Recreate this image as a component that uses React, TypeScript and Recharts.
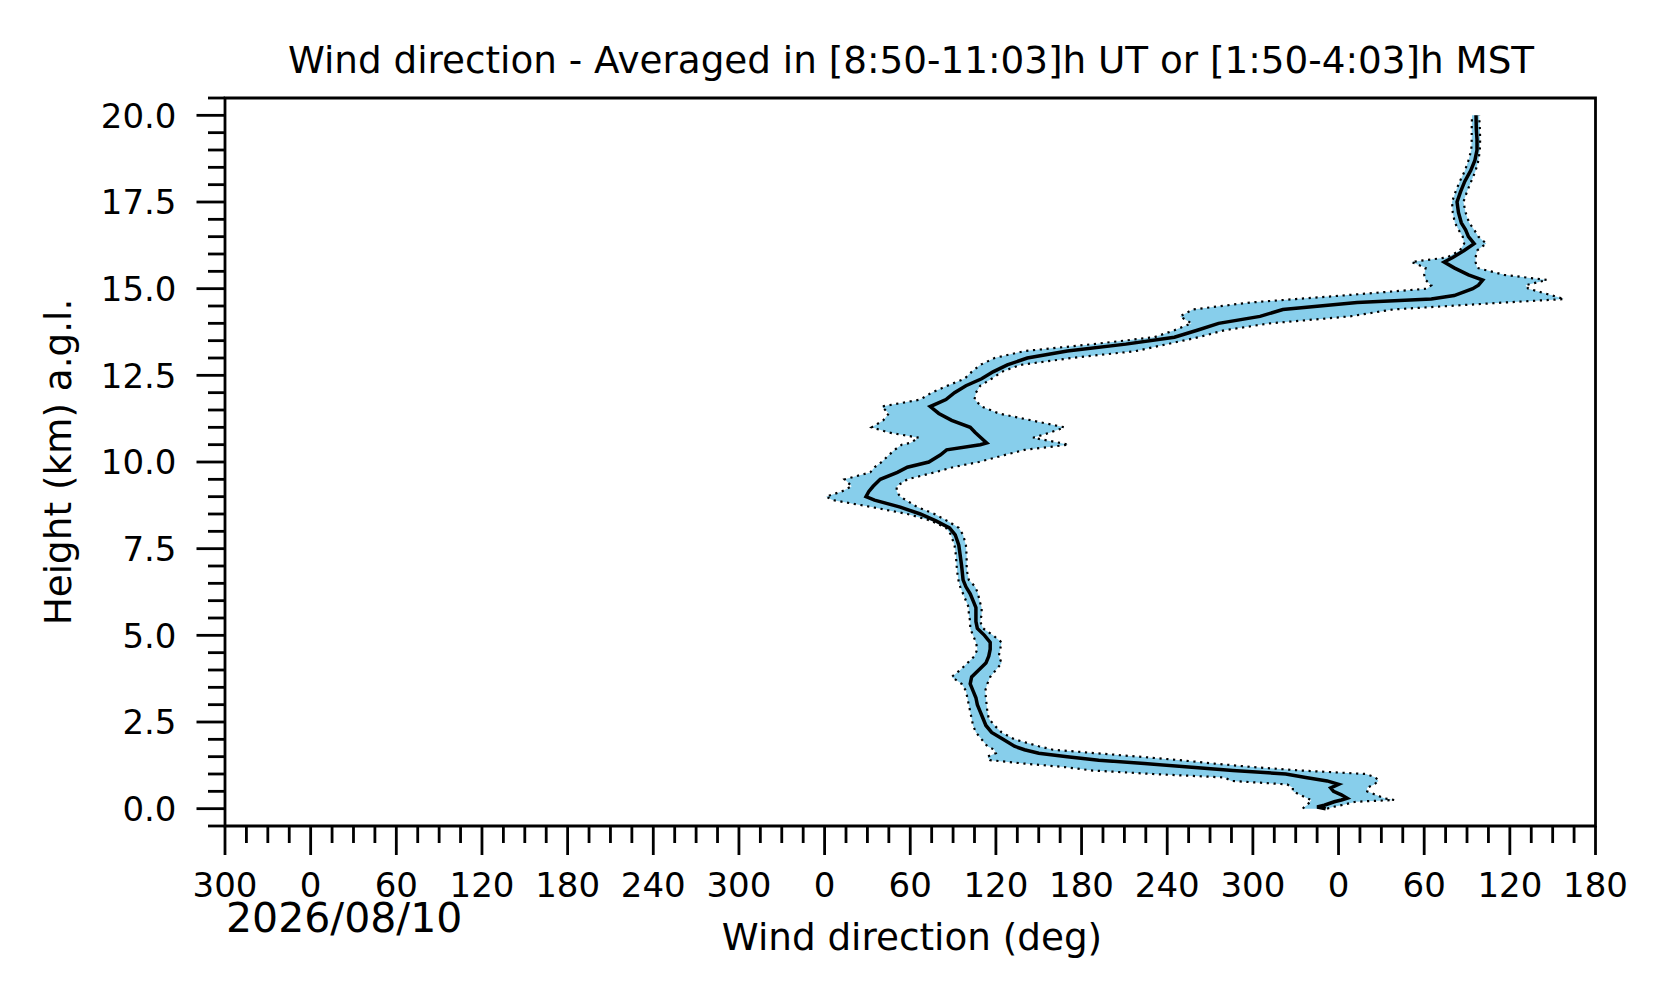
import React from 'react';
import { ComposedChart, Area, Line, XAxis, YAxis, ReferenceArea } from 'recharts';

// Height above ground level (km)
const heights = [
  0.0, 0.05, 0.1, 0.2, 0.25, 0.3, 0.4, 0.5, 0.6, 0.7, 0.8, 0.9, 1.0, 1.1, 1.2, 1.3, 1.4, 1.5, 1.6, 1.7, 1.8,
  2.0, 2.2, 2.4, 2.6, 2.8, 3.0, 3.2, 3.4, 3.6, 3.8, 4.0, 4.2, 4.4, 4.6, 4.8, 5.0, 5.2, 5.4, 5.6, 5.8,
  6.0, 6.2, 6.4, 6.6, 6.8, 7.0, 7.3, 7.6, 7.9, 8.1, 8.3, 8.5, 8.7, 8.9, 9.0, 9.15, 9.3, 9.5, 9.7, 9.85,
  10.0, 10.2, 10.35, 10.5, 10.55, 10.7, 10.85, 11.0, 11.2, 11.4, 11.6, 11.8, 12.0, 12.2, 12.4, 12.6, 12.8,
  13.0, 13.2, 13.4, 13.6, 13.8, 14.0, 14.2, 14.4, 14.6, 14.7, 14.8, 15.0, 15.1, 15.25, 15.4, 15.6, 15.77,
  15.9, 16.1, 16.3, 16.5, 16.7, 16.9, 17.2, 17.5, 17.8, 18.1, 18.4, 18.7, 19.0, 19.3, 19.6, 20.0,
];

// Unwrapped wind direction (deg): lower edge of spread, mean, upper edge of spread
const lowDir = [
  695, 696, 698, 700, 701, 698, 693, 688, 688, 684, 645, 640, 590, 548, 528, 500, 476, 474, 480, 479, 474,
  470, 466, 464, 463, 462, 461, 460, 459, 456, 449, 455, 460, 465, 467, 466, 464, 462, 462, 461, 461,
  459, 457, 455, 453.7, 453, 452.5, 452, 451, 448.5, 445, 435, 418, 393, 366, 361, 372, 379, 374, 392, 395,
  400, 405, 409, 414, 420, 426, 405, 393, 401, 405, 400, 427, 435, 446, 458, 463, 469,
  479, 500, 548, 591, 605, 617, 609, 618, 658, 690, 722, 782, 785, 781, 780, 781, 771,
  796, 805, 808, 807, 804, 801.5, 800, 799.5, 802, 805, 808.5, 811, 813, 813.3, 813.3, 813.5,
];
const meanDir = [
  711, 705, 710, 717, 722, 726, 722, 716.5, 714.5, 720, 712, 697, 683, 646, 615, 584, 552, 530, 510, 500, 493,
  485, 477, 473, 471, 469, 467, 466, 464, 462, 463, 468, 473, 475, 476, 476, 472, 467, 466, 466, 466,
  464, 462, 459, 457, 456.5, 456, 455, 454, 451.5, 447.5, 438, 427, 413, 395, 389, 391, 394, 399, 411, 418,
  433, 441, 445.5, 469, 473.5, 469.5, 465.5, 462, 449, 440, 434, 445, 451, 459, 470, 478, 488,
  502, 530, 571, 605, 621, 636, 665, 681, 733, 785, 801, 814, 818, 821, 811, 801, 794,
  800, 808, 815, 811, 809, 806, 804, 803, 805.5, 808.5, 812.5, 815.5, 817, 817, 816.5, 816.3,
];
const highDir = [
  712, 716, 722, 732, 759, 752, 746, 740, 740, 745, 748, 746, 739, 694, 660, 633, 609, 580, 550, 520, 510,
  493, 484, 479, 475, 474, 473.5, 473, 472.5, 474, 476, 480, 484, 482, 483, 484, 478, 471, 469, 470, 470,
  468.5, 467.5, 465.5, 461, 460, 459.5, 459.5, 459, 457, 454, 446, 437, 425, 417, 413, 410.5, 410.5, 418, 437, 450,
  468, 486, 500, 531, 525, 506, 518, 528, 505, 482, 470, 465, 466, 469, 477, 484, 497,
  533, 578, 600, 622, 640, 672, 728, 758, 836, 878, 870, 853, 851, 866, 836, 817, 816,
  816, 817, 823.5, 818, 815, 811.5, 809, 807.5, 810, 813, 816, 818, 819, 819.2, 819, 818.5,
];

// Axis ticks and labels
const xMajorTicks = [-60, 0, 60, 120, 180, 240, 300, 360, 420, 480, 540, 600, 660, 720, 780, 840, 900];
const xTickLabels = ['300', '0', '60', '120', '180', '240', '300', '0', '60', '120', '180', '240', '300', '0', '60', '120', '180'];
const yMajorTicks = [0, 2.5, 5, 7.5, 10, 12.5, 15, 17.5, 20];
const yTickLabels = ['0.0', '2.5', '5.0', '7.5', '10.0', '12.5', '15.0', '17.5', '20.0'];

const xAllTicks: number[] = [];
xMajorTicks.forEach((t, i) => {
  xAllTicks.push(t);
  if (i < xMajorTicks.length - 1) {
    xAllTicks.push(t + 15, t + 30, t + 45);
  }
});
const yAllTicks: number[] = [-0.5];
yMajorTicks.forEach((t) => {
  yAllTicks.push(t);
  [0.5, 1.0, 1.5, 2.0].forEach((d) => {
    if (t + d <= 20.5) yAllTicks.push(t + d);
  });
});

const rows = heights.map((h, i) => ({
  h,
  lo: lowDir[i],
  mean: meanDir[i],
  hi: highDir[i],
  band: [lowDir[i], highDir[i]],
}));

const FONT = 'DejaVu Sans';

const XTick = (props: any) => {
  const { x, y, payload } = props;
  const idx = xMajorTicks.indexOf(payload.value);
  const major = idx >= 0;
  return (
    <g>
      <line x1={x} x2={x} y1={y} y2={y + (major ? 29 : 17)} stroke="#000" strokeWidth={2.8} />
      {major && (
        <text x={x} y={y + 71} textAnchor="middle" fontSize={34} fontFamily={FONT} fill="#000">
          {xTickLabels[idx]}
        </text>
      )}
    </g>
  );
};

const YTick = (props: any) => {
  const { x, y, payload } = props;
  const idx = yMajorTicks.findIndex((t) => Math.abs(t - payload.value) < 1e-6);
  const major = idx >= 0;
  return (
    <g>
      <line x1={x - (major ? 28.5 : 17)} x2={x} y1={y} y2={y} stroke="#000" strokeWidth={2.8} />
      {major && (
        <text x={x - 48.5} y={y + 12.4} textAnchor="end" fontSize={34} fontFamily={FONT} fill="#000">
          {yTickLabels[idx]}
        </text>
      )}
    </g>
  );
};

export default function App() {
  return (
    <div style={{ position: 'relative', width: 1676, height: 1003, background: '#fff' }}>
      <style>{`body{margin:0;background:#fff;}`}</style>
      <ComposedChart
        width={1676}
        height={1003}
        data={rows}
        layout="vertical"
        margin={{ top: 98, right: 80.5, bottom: 97, left: 0 }}
      >
        <XAxis
          type="number"
          domain={[-60, 900]}
          allowDataOverflow
          ticks={xAllTicks}
          interval={0}
          tick={<XTick />}
          tickLine={false}
          axisLine={false}
          tickSize={0}
          tickMargin={0}
          height={80}
        />
        <YAxis
          type="number"
          dataKey="h"
          domain={[-0.5, 20.5]}
          allowDataOverflow
          reversed
          ticks={yAllTicks}
          interval={0}
          tick={<YTick />}
          tickLine={false}
          axisLine={false}
          tickSize={0}
          tickMargin={0}
          width={225}
        />
        <Area
          dataKey="band"
          type="linear"
          fill="#87CEEB"
          fillOpacity={1}
          stroke="none"
          dot={false}
          activeDot={false}
          isAnimationActive={false}
        />
        <Line
          dataKey="lo"
          type="linear"
          stroke="#000"
          strokeWidth={2.2}
          strokeDasharray="2.2 4.6"
          dot={false}
          activeDot={false}
          isAnimationActive={false}
        />
        <Line
          dataKey="hi"
          type="linear"
          stroke="#000"
          strokeWidth={2.2}
          strokeDasharray="2.2 4.6"
          dot={false}
          activeDot={false}
          isAnimationActive={false}
        />
        <Line
          dataKey="mean"
          type="linear"
          stroke="#000"
          strokeWidth={3.5}
          dot={false}
          activeDot={false}
          isAnimationActive={false}
        />
        <ReferenceArea
          x1={-60}
          x2={900}
          y1={-0.5}
          y2={20.5}
          fill="none"
          fillOpacity={0}
          stroke="#000"
          strokeWidth={2.8}
          ifOverflow="visible"
        />
      </ComposedChart>
      <svg
        width={1676}
        height={1003}
        style={{ position: 'absolute', left: 0, top: 0, pointerEvents: 'none' }}
      >
        <text x={911} y={73} textAnchor="middle" fontSize={37.3} fontFamily={FONT} fill="#000">
          Wind direction - Averaged in [8:50-11:03]h UT or [1:50-4:03]h MST
        </text>
        <text x={912} y={950} textAnchor="middle" fontSize={37.3} fontFamily={FONT} fill="#000">
          Wind direction (deg)
        </text>
        <text x={226} y={931.5} textAnchor="start" fontSize={41} fontFamily={FONT} fill="#000">
          2026/08/10
        </text>
        <text
          x={71}
          y={462}
          textAnchor="middle"
          fontSize={37.3}
          fontFamily={FONT}
          fill="#000"
          transform="rotate(-90 71 462)"
        >
          Height (km) a.g.l.
        </text>
      </svg>
    </div>
  );
}
